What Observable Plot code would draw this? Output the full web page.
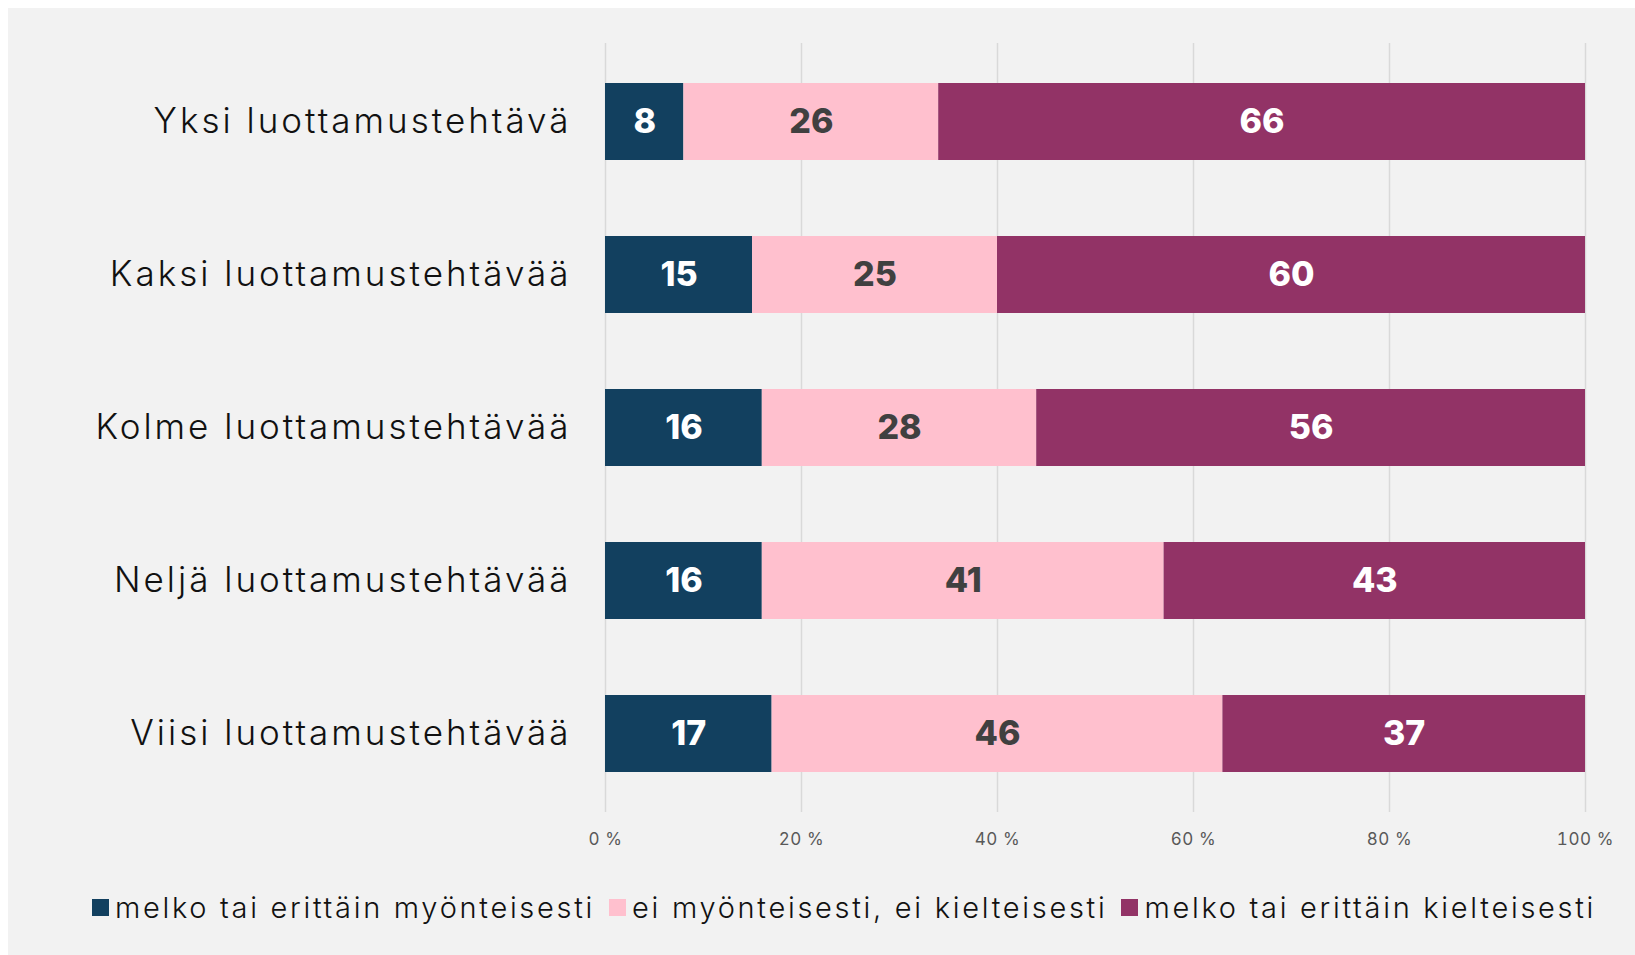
<!DOCTYPE html>
<html>
<head>
<meta charset="utf-8">
<script src="https://cdn.jsdelivr.net/npm/d3@7"></script>
<script src="https://cdn.jsdelivr.net/npm/@observablehq/plot@0.6"></script>
<style>
  html, body { margin: 0; padding: 0; background: #ffffff; }
  #panel { position: absolute; left: 8px; top: 8px; width: 1627px; height: 947px; background: #f2f2f2; }
  #chart { position: absolute; left: 0; top: 0; }
  #legend { position: absolute; left: 0; top: 882px; width: 1627px; display: flex; justify-content: center;
            font-family: Inter, sans-serif; font-size: 29px; font-weight: 350; letter-spacing: 2.7px; color: #111; gap: 14px; padding-left: 45px; box-sizing: border-box; }
  .item { display: flex; align-items: center; gap: 6px; white-space: nowrap; }
  .sw { width: 17px; height: 17px; display: inline-block; }
  .ylab text { letter-spacing: 3px; }
  .xlab text { letter-spacing: 0.6px; }
</style>
</head>
<body>
<div id="panel"><div id="chart"></div><div id="legend"></div></div>
<script>
const categories = ["Yksi luottamustehtävä", "Kaksi luottamustehtävää", "Kolme luottamustehtävää", "Neljä luottamustehtävää", "Viisi luottamustehtävää"];
const series = ["melko tai erittäin myönteisesti", "ei myönteisesti, ei kielteisesti", "melko tai erittäin kielteisesti"];
const colors = ["#12405f", "#ffc0ce", "#923366"];
const positive = [8, 15, 16, 16, 17];
const neutral = [26, 25, 28, 41, 46];
const negative = [66, 60, 56, 43, 37];
const xTicks = [0, 20, 40, 60, 80, 100];
const xTickLabels = ["0 %", "20 %", "40 %", "60 %", "80 %", "100 %"];

const seriesValues = [positive, neutral, negative];
const data = [];
categories.forEach((c, i) => {
  series.forEach((s, j) => data.push({cat: c, series: s, value: seriesValues[j][i]}));
});

const chart = Plot.plot({
  width: 1627,
  height: 870,
  marginLeft: 597,
  marginRight: 50,
  marginTop: 35,
  marginBottom: 66,
  style: {background: "transparent", fontFamily: "Inter, sans-serif"},
  x: {domain: [0, 100]},
  y: {domain: categories, paddingInner: 0.5, paddingOuter: 0.25, label: null},
  color: {domain: series, range: colors},
  marks: [
    Plot.gridX(xTicks, {stroke: "#d9d9d9", strokeOpacity: 1, strokeWidth: 1.5}),
    Plot.axisX(xTicks, {tickSize: 0, tickPadding: 20, tickFormat: d => xTickLabels[xTicks.indexOf(d)], fontSize: 17, fill: "#595959", label: null, className: "xlab"}),
    Plot.axisY({tickSize: 0, tickPadding: 34, fontSize: 35, fontWeight: 350, fill: "#111", label: null, className: "ylab"}),
    Plot.barX(data, Plot.stackX({x: "value", y: "cat", fill: "series"})),
    Plot.text(data, Plot.stackX({x: "value", y: "cat", z: "series", text: d => d.series !== series[1] ? String(d.value) : null, fill: "white", fontSize: 34, fontWeight: 800})),
    Plot.text(data, Plot.stackX({x: "value", y: "cat", z: "series", text: d => d.series === series[1] ? String(d.value) : null, fill: "#404040", fontSize: 34, fontWeight: 800}))
  ]
});
document.getElementById("chart").appendChild(chart);

const legend = document.getElementById("legend");
series.forEach((s, j) => {
  const it = document.createElement("div");
  it.className = "item";
  const sw = document.createElement("span");
  sw.className = "sw";
  sw.style.background = colors[j];
  const t = document.createElement("span");
  t.textContent = s;
  it.appendChild(sw); it.appendChild(t);
  legend.appendChild(it);
});
</script>
</body>
</html>
